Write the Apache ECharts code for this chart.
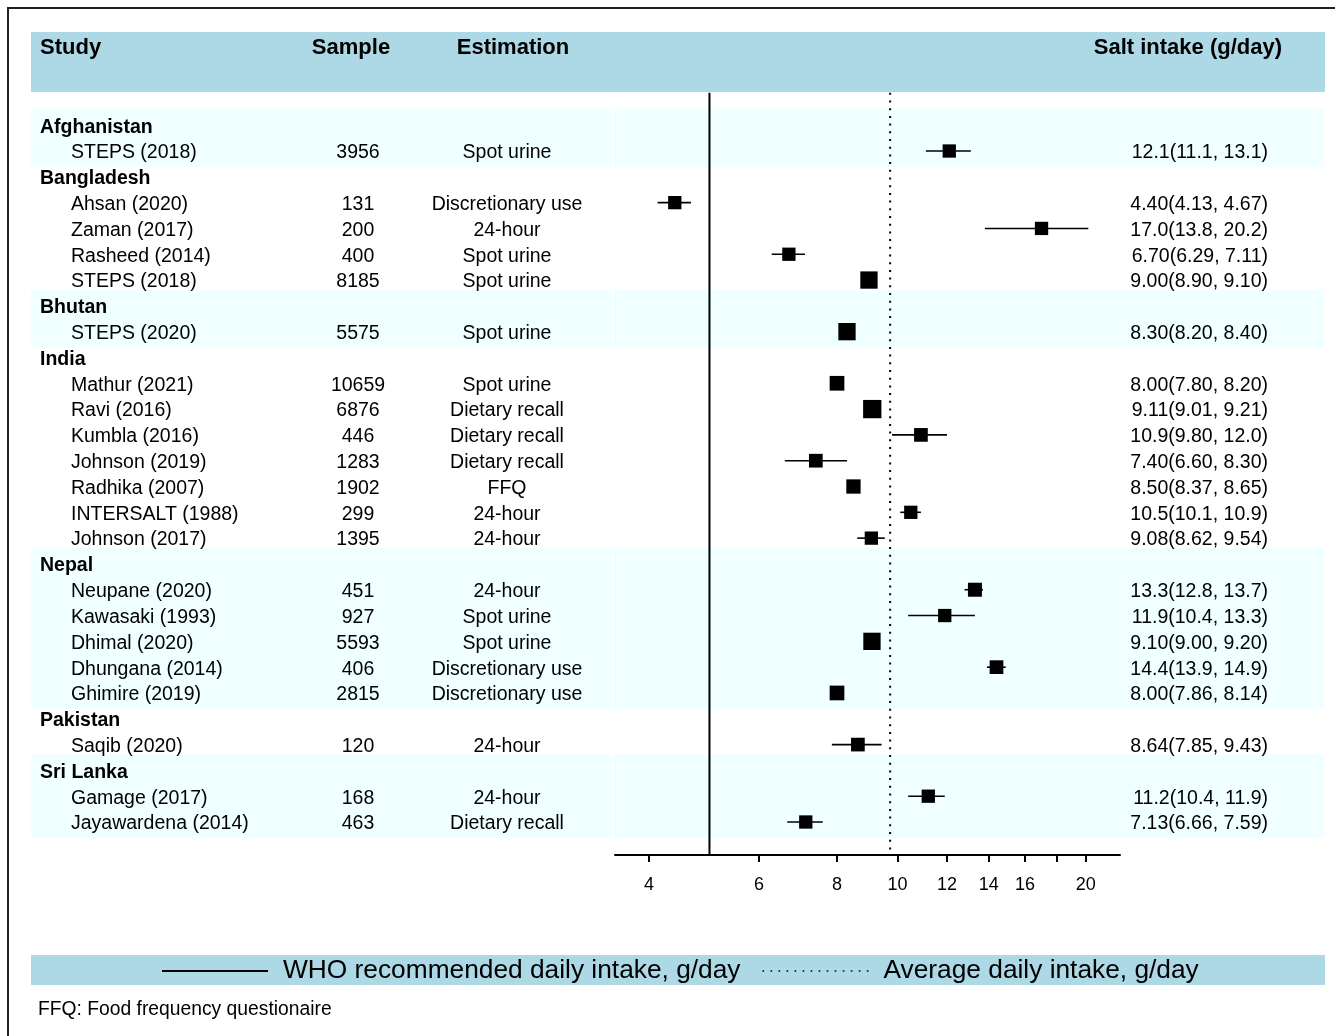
<!DOCTYPE html>
<html lang="en">
<head>
<meta charset="UTF-8">
<title>Salt intake in South Asia</title>
<style>html,body{margin:0;padding:0;background:#fff;}</style>
</head>
<body>
<div id="main" style="width:1335px;height:1036px;"></div>
<script src="https://cdn.jsdelivr.net/npm/echarts@6/dist/echarts.min.js"></script>
<script>
// ---- data ----
var countries = ['Afghanistan', 'Bangladesh', 'Bhutan', 'India', 'Nepal', 'Pakistan', 'Sri Lanka'];
var studyCountry = [0, 1, 1, 1, 1, 2, 3, 3, 3, 3, 3, 3, 3, 4, 4, 4, 4, 4, 5, 6, 6];
var studyNames = ['STEPS (2018)', 'Ahsan (2020)', 'Zaman (2017)', 'Rasheed (2014)', 'STEPS (2018)',
    'STEPS (2020)', 'Mathur (2021)', 'Ravi (2016)', 'Kumbla (2016)', 'Johnson (2019)', 'Radhika (2007)',
    'INTERSALT (1988)', 'Johnson (2017)', 'Neupane (2020)', 'Kawasaki (1993)', 'Dhimal (2020)',
    'Dhungana (2014)', 'Ghimire (2019)', 'Saqib (2020)', 'Gamage (2017)', 'Jayawardena (2014)'];
var samples = [3956, 131, 200, 400, 8185, 5575, 10659, 6876, 446, 1283, 1902, 299, 1395,
    451, 927, 5593, 406, 2815, 120, 168, 463];
var methods = ['Spot urine', 'Discretionary use', '24-hour', 'Spot urine', 'Spot urine', 'Spot urine',
    'Spot urine', 'Dietary recall', 'Dietary recall', 'Dietary recall', 'FFQ', '24-hour', '24-hour',
    '24-hour', 'Spot urine', 'Spot urine', 'Discretionary use', 'Discretionary use', '24-hour',
    '24-hour', 'Dietary recall'];
var means = [12.1, 4.40, 17.0, 6.70, 9.00, 8.30, 8.00, 9.11, 10.9, 7.40, 8.50, 10.5, 9.08,
    13.3, 11.9, 9.10, 14.4, 8.00, 8.64, 11.2, 7.13];
var lower = [11.1, 4.13, 13.8, 6.29, 8.90, 8.20, 7.80, 9.01, 9.80, 6.60, 8.37, 10.1, 8.62,
    12.8, 10.4, 9.00, 13.9, 7.86, 7.85, 10.4, 6.66];
var upper = [13.1, 4.67, 20.2, 7.11, 9.10, 8.40, 8.20, 9.21, 12.0, 8.30, 8.65, 10.9, 9.54,
    13.7, 13.3, 9.20, 14.9, 8.14, 9.43, 11.9, 7.59];
// study weight shown as box size
var weights = [13.3, 13.3, 13.3, 13.3, 17.3, 17.3, 14.7, 18.3, 13.7, 13.7, 14.3, 13.3, 13.3,
    14, 13.3, 17.3, 13.7, 14.7, 13.7, 13.3, 13.3];
var tickValues = [4, 6, 8, 10, 12, 14, 16, 18, 20];
var tickLabels = [4, 6, 8, 10, 12, 14, 16, 20];
var whoLimit = 5;
var avgIntake = 9.73;
var whoName = 'WHO recommended daily intake, g/day';
var avgName = 'Average daily intake, g/day';

var FONT = 'Liberation Sans, Arial, sans-serif';

// rows: country header followed by its studies
var rowText = [], rowHeader = [], rowStudy = [], rowCountry = [];
countries.forEach(function (c, ci) {
    rowText.push(c); rowHeader.push(true); rowStudy.push(-1); rowCountry.push(ci);
    studyNames.forEach(function (s, si) {
        if (studyCountry[si] === ci) {
            rowText.push(s); rowHeader.push(false); rowStudy.push(si); rowCountry.push(ci);
        }
    });
});
var rowIds = rowText.map(function (t, i) { return String(i); });

function ciText(si) {
    return means[si].toPrecision(3) + '(' + lower[si].toPrecision(3) + ', ' + upper[si].toPrecision(3) + ')';
}

var pointData = [], whiskerData = [];
rowStudy.forEach(function (si, r) {
    if (si < 0) return;
    pointData.push({ value: [means[si], r], symbolSize: weights[si] });
    whiskerData.push([lower[si], upper[si], r]);
});

var cellRich = {
    h: { fontWeight: 'bold', fontSize: 19.5, color: '#000', fontFamily: FONT },
    s: { fontSize: 19.5, color: '#000', fontFamily: FONT, padding: [0, 0, 0, 31] },
    t: { fontSize: 19.5, color: '#000', fontFamily: FONT }
};

function yCol(position, margin, align, fmt) {
    return {
        type: 'category', data: rowIds, inverse: true, position: position, gridIndex: 0,
        axisLine: { show: false }, axisTick: { show: false }, splitLine: { show: false },
        axisLabel: {
            interval: 0, margin: margin, align: align, color: '#000', padding: [4, 0, 0, 0],
            fontSize: 19.5, fontFamily: FONT, formatter: fmt, rich: cellRich
        }
    };
}

function refLine(name, value, dash) {
    return {
        type: 'custom', name: name, coordinateSystem: 'cartesian2d', silent: true, z: 1,
        itemStyle: { color: '#000' },
        data: [[value, 0]], encode: { x: 0, y: 1 },
        renderItem: function (params, api) {
            var x = api.coord([api.value(0), 0])[0];
            var cs = params.coordSys;
            return {
                type: 'line',
                shape: { x1: x, y1: cs.y - 19.5, x2: x, y2: cs.y + cs.height + 20 },
                style: { stroke: '#000', lineWidth: 2, lineDash: dash }
            };
        }
    };
}

var dotIcon = 'path://';
for (var i = 0; i < 14; i++) {
    dotIcon += 'M' + (i * 8) + ',0h1.6v1.6h-1.6Z';
}

var myChart = echarts.init(document.getElementById('main'));

var option = {
    animation: false,
    textStyle: { fontFamily: FONT },
    grid: { left: 615, top: 112.3, width: 505, height: 722.6, outerBoundsMode: 'none' },
    legend: {
        left: 162, top: 958, padding: 0, itemWidth: 106, itemHeight: 2, itemGap: 22,
        selectedMode: false,
        data: [{ name: whoName, icon: 'rect' }, { name: avgName, icon: dotIcon }],
        textStyle: { fontSize: 26.3, color: '#000', fontFamily: FONT, padding: [0, 0, 0, 10] }
    },
    xAxis: {
        type: 'log', logBase: 10, min: 3.53, max: 22.7, offset: 20,
        axisLine: { show: true, lineStyle: { color: '#000', width: 2 } },
        axisTick: { show: true, customValues: tickValues, length: 7, lineStyle: { color: '#000', width: 2 } },
        axisLabel: { customValues: tickLabels, color: '#000', fontSize: 18, margin: 21, fontFamily: FONT },
        splitLine: { show: false }
    },
    yAxis: [
        yCol('left', 575, 'left', function (v, idx) {
            return rowHeader[idx] ? '{h|' + rowText[idx] + '}' : '{s|' + rowText[idx] + '}';
        }),
        yCol('left', 257, 'center', function (v, idx) {
            return rowHeader[idx] ? '' : '{t|' + samples[rowStudy[idx]] + '}';
        }),
        yCol('left', 108, 'center', function (v, idx) {
            return rowHeader[idx] ? '' : '{t|' + methods[rowStudy[idx]] + '}';
        }),
        yCol('right', 148, 'right', function (v, idx) {
            return rowHeader[idx] ? '' : '{t|' + ciText(rowStudy[idx]) + '}';
        })
    ],
    series: [
        refLine(whoName, whoLimit, null),
        refLine(avgName, avgIntake, [2, 5.7]),
        {
            type: 'custom', name: 'ci', coordinateSystem: 'cartesian2d', silent: true, z: 3,
            data: whiskerData, encode: { x: [0, 1], y: 2 },
            renderItem: function (params, api) {
                var a = api.coord([api.value(0), api.value(2)]);
                var b = api.coord([api.value(1), api.value(2)]);
                return {
                    type: 'line',
                    shape: { x1: a[0], y1: a[1], x2: b[0], y2: b[1] },
                    style: { stroke: '#000', lineWidth: 1.6 }
                };
            }
        },
        {
            type: 'scatter', name: 'estimate', symbol: 'rect', z: 4, silent: true,
            itemStyle: { color: '#000', opacity: 1 },
            data: pointData
        }
    ]
};

myChart.setOption(option);

// background bands and frame, placed from the row scale
var els = [];
els.push({ type: 'rect', z: -10, shape: { x: 31, y: 32, width: 1294, height: 60 }, style: { fill: '#add8e6' } });
els.push({ type: 'rect', z: -10, shape: { x: 31, y: 955, width: 1294, height: 30 }, style: { fill: '#add8e6' } });
countries.forEach(function (c, ci) {
    if (ci % 2 !== 0) return;
    var first = rowCountry.indexOf(ci), last = rowCountry.lastIndexOf(ci);
    var y0 = myChart.convertToPixel({ yAxisIndex: 0 }, first) - 16;
    var y1 = myChart.convertToPixel({ yAxisIndex: 0 }, last) + 16;
    els.push({ type: 'rect', z: -10, shape: { x: 31, y: y0, width: 581, height: y1 - y0 }, style: { fill: '#f0ffff' } });
    els.push({ type: 'rect', z: -10, shape: { x: 614, y: y0, width: 710, height: y1 - y0 }, style: { fill: '#f0ffff' } });
});
var heads = [['Study', 40, 'left'], ['Sample', 351, 'center'], ['Estimation', 513, 'center'], ['Salt intake (g/day)', 1282, 'right']];
heads.forEach(function (h) {
    els.push({
        type: 'text', z: 50,
        style: {
            text: h[0], x: h[1], y: 48, textAlign: h[2], textVerticalAlign: 'middle',
            fontSize: 22, fontWeight: 'bold', fontFamily: FONT, fill: '#000'
        }
    });
});
els.push({
    type: 'text', z: 50,
    style: {
        text: 'FFQ: Food frequency questionaire', x: 38, y: 1010, textVerticalAlign: 'middle',
        fontSize: 19.3, fontFamily: FONT, fill: '#000'
    }
});
els.push({ type: 'rect', z: 60, shape: { x: 8, y: 8, width: 1340, height: 1040 }, style: { fill: null, stroke: '#222', lineWidth: 2 } });

myChart.setOption({ graphic: { elements: els } });
</script>
</body>
</html>
